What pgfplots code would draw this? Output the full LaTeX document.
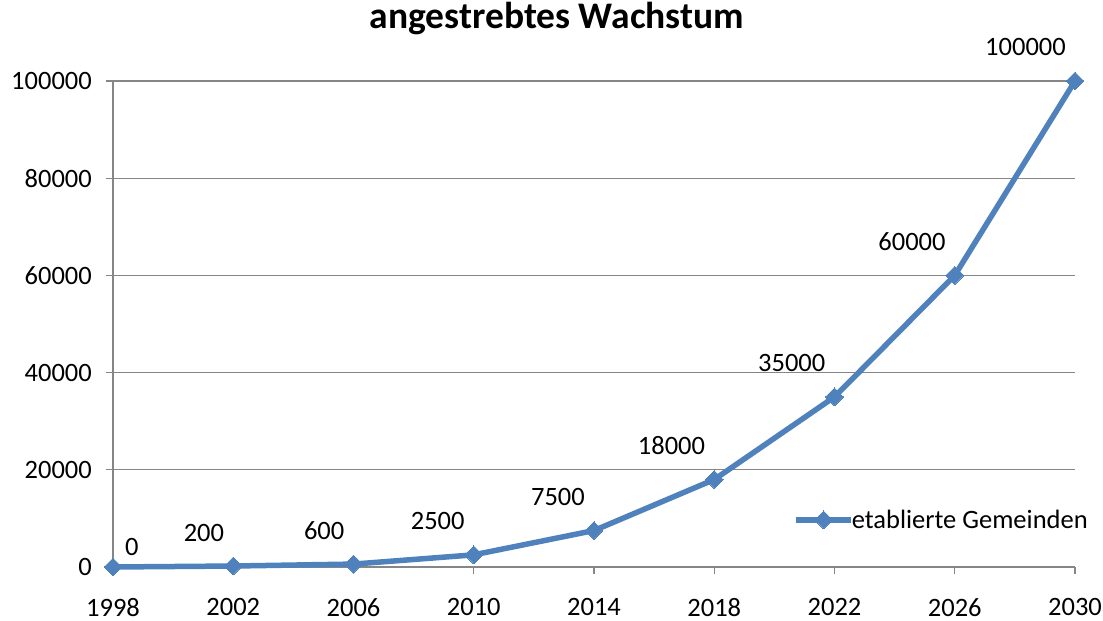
\documentclass[border=0pt]{standalone}
\usepackage{pgfplots}
\pgfplotsset{compat=1.18}
\usepackage{fontspec}
\setmainfont{Carlito}
\definecolor{serblue}{HTML}{4F81BD}
\definecolor{gridgray}{HTML}{868686}
\pgfplotstableread{
year value
1998 0
2002 200
2006 600
2010 2500
2014 7500
2018 18000
2022 35000
2026 60000
2030 100000
}\datatab
\pgfplotstableread{
year value
1998 0
}\firsttab
\pgfplotstableread{
year value
2002 200
2006 600
2010 2500
2014 7500
2018 18000
2022 35000
2026 60000
2030 100000
}\resttab
\begin{document}
\begin{tikzpicture}
\path[use as bounding box] (0,0) rectangle (1103pt,621pt);
\begin{axis}[
  at={(113pt,54pt)}, anchor=south west,
  scale only axis, width=962pt, height=486pt,
  xmin=1998, xmax=2030, ymin=0, ymax=100000,
  xtick={1998,2002,2006,2010,2014,2018,2022,2026,2030},
  xticklabels={1998,2002,2006,2010,2014,2018,2022,2026,2030},
  ytick={0,20000,40000,60000,80000,100000},
  yticklabels={0,20000,40000,60000,80000,100000},
  scaled y ticks=false,
  axis x line*=bottom, axis y line*=left,
  axis line style={gridgray, line width=1.3pt, -},
  tick style={gridgray, line width=1.3pt},
  tick align=outside, major tick length=7pt,
  ymajorgrids, grid style={gridgray, line width=1.3pt},
  ticklabel style={font=\fontsize{26.5}{32}\selectfont, text=black, inner sep=0pt},
  yticklabel style={xshift=-14pt},
  xticklabel style={yshift=-24pt},
  title={\textbf{angestrebtes Wachstum}},
  title style={font=\fontsize{37.5}{44}\selectfont, at={(0.4615,1)}, anchor=center, yshift=56pt},
  legend style={at={(0.707,0.097)}, anchor=west, draw=none, fill=none,
     font=\fontsize{26.5}{32}\selectfont, inner sep=0pt,
     legend cell align=left},
  legend image code/.code={%
     \draw[mark repeat=2,mark phase=2,#1] plot coordinates {(0pt,0pt) (27.5pt,0pt) (55pt,0pt)};},
  clip=false,
]
\addplot[serblue, line width=5.5pt, mark=square*, mark size=6.3pt,
   mark options={rotate=45, solid, line width=0pt, fill=serblue}] table[x=year,y=value] {\datatab};
\addlegendentry{\kern-4pt etablierte Gemeinden}
\addplot[forget plot, draw=none, mark=none, nodes near coords,
   point meta=explicit symbolic,
   nodes near coords style={font=\fontsize{26.5}{32}\selectfont, text=black, inner sep=0pt, anchor=base west, xshift=12pt, yshift=11pt}]
   table[x=year,y=value,meta=value] {\firsttab};
\addplot[forget plot, draw=none, mark=none, nodes near coords,
   point meta=explicit symbolic,
   nodes near coords style={font=\fontsize{26.5}{32}\selectfont, text=black, inner sep=0pt, anchor=base east, xshift=-9pt, yshift=25pt}]
   table[x=year,y=value,meta=value] {\resttab};
\end{axis}
\end{tikzpicture}
\end{document}
